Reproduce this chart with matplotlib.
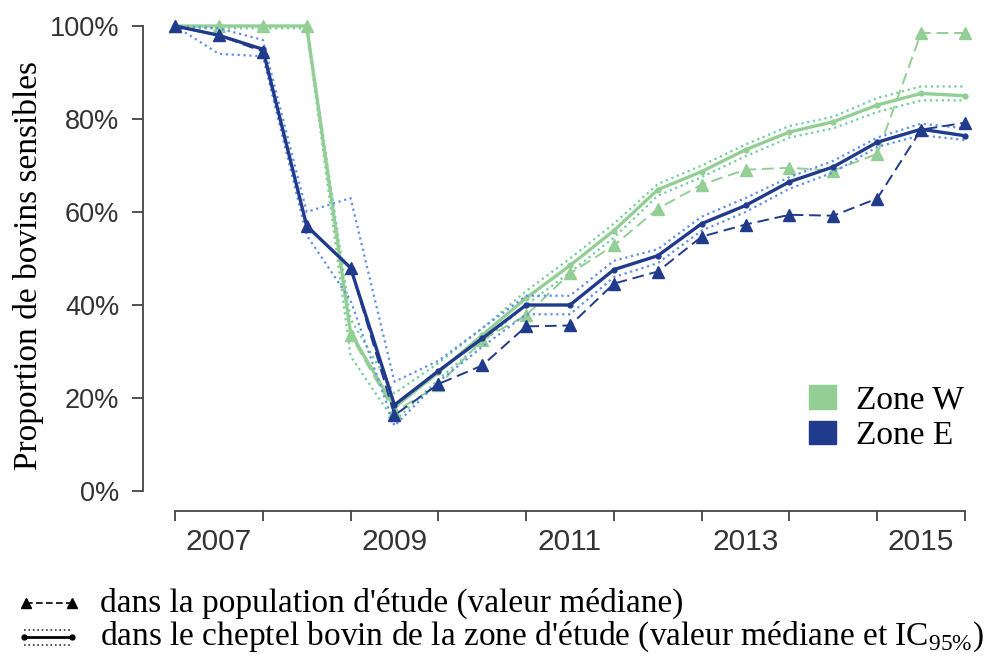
import matplotlib
matplotlib.use("Agg")
import matplotlib.pyplot as plt
from matplotlib.patches import Patch

plt.rcParams['mathtext.fontset'] = 'custom'
plt.rcParams['mathtext.rm'] = 'Liberation Serif'

# données (semestres)
periodes = [2007.0, 2007.5, 2008.0, 2008.5, 2009.0, 2009.5, 2010.0, 2010.5, 2011.0, 2011.5,
            2012.0, 2012.5, 2013.0, 2013.5, 2014.0, 2014.5, 2015.0, 2015.5, 2016.0]

# Zone W
w_med = [100, 100, 100, 100, 34, 18, 25.5, 33.5, 41.5, 48.5, 56, 64.8, 68.7, 73.4, 77.2, 79.4, 83, 85.5, 85]
w_lo = [99.5, 99.5, 99.5, 99.5, 29, 15, 24, 32, 40, 47, 54.5, 63.5, 67.5, 72, 76, 78, 81.5, 84, 84]
w_hi = [100, 100, 100, 100, 37, 21, 27.5, 35, 43, 50, 57.5, 66, 70, 74.5, 78.5, 80.5, 84.5, 87, 87]
w_pop = [100, 100, 100, 100, 33.5, 17, 22.7, 32.5, 37.8, 46.8, 52.8, 60.7, 65.9, 69.1, 69.5, 68.9, 72.5, 98.5, 98.5]

# Zone E
e_med = [100, 98, 95, 57, 48, 18.5, 25.8, 32.8, 40, 40, 47.6, 50.6, 57.5, 61.4, 66.5, 69.7, 75, 77.8, 76.4]
e_lo = [100, 94, 93.5, 55, 41, 14, 23.5, 31, 38, 38, 46, 49, 56, 60, 65, 68.5, 74, 76.5, 75.5]
e_hi = [100, 99.5, 97, 60, 63, 23.5, 28, 35, 42, 42, 49.5, 52, 59, 63, 67.5, 71, 76, 79, 78]
e_pop = [100, 98, 94.5, 57, 48, 16.3, 23, 27, 35.4, 35.6, 44.6, 47.2, 54.7, 57.3, 59.4, 59.2, 62.9, 77.7, 79.2]

annees_ticks = [2007, 2008, 2009, 2010, 2011, 2012, 2013, 2014, 2015, 2016]
annees_labels = ['2007', '2009', '2011', '2013', '2015']
y_ticks = [0, 20, 40, 60, 80, 100]

vert = '#93cf94'
vert_ic = '#72cf9c'
bleu = '#213b8c'
bleu_ic = '#5f8fef'

fig = plt.figure(figsize=(9.88, 6.57), dpi=100)
ax = fig.add_axes([143 / 988, 146 / 657, 832 / 988, 501 / 657])

zones = [(w_med, w_lo, w_hi, w_pop, vert, vert_ic),
         (e_med, e_lo, e_hi, e_pop, bleu, bleu_ic)]
for med, lo, hi, pop, c, cic in zones:
    ax.plot(periodes, lo, ':', color=cic, lw=1.6)
    ax.plot(periodes, hi, ':', color=cic, lw=1.6)
    ax.plot(periodes, pop, '--', color=c, lw=1.4, marker='^', ms=8, dashes=(6, 3))
    ax.plot(periodes, med, '-', color=c, lw=2.4, marker='o', ms=3.5)

ax.set_xlim(2006.635, 2016.114)
ax.set_ylim(-4.3, 103.44)

for s in ['top', 'right']:
    ax.spines[s].set_visible(False)
ax.spines['left'].set_bounds(0, 100)
ax.spines['bottom'].set_bounds(2007, 2016)
for s in ['left', 'bottom']:
    ax.spines[s].set_color('#444444')
    ax.spines[s].set_linewidth(1.3)

ax.set_xticks(annees_ticks)
ax.set_xticklabels([''] * len(annees_ticks))
ax.set_xticks([int(a) + 0.5 for a in annees_labels], minor=True)
ax.set_xticklabels(annees_labels, minor=True, fontsize=21.5, family='Liberation Sans', color='#333333')
ax.tick_params(axis='x', which='major', length=7.5, width=1.3, color='#444444')
ax.tick_params(axis='x', which='minor', length=0, pad=12)

ax.set_yticks(y_ticks)
ax.set_yticklabels([f"{v}%" for v in y_ticks], fontsize=19.5, family='Liberation Sans', color='#333333')
ax.tick_params(axis='y', length=8, width=1.3, color='#444444', pad=9)

fig.text(29 / 988, 1 - 266 / 657, 'Proportion de bovins sensibles', rotation=90,
         ha='center', va='center', fontsize=24, family='Liberation Serif')

# légende des zones
handles = [Patch(color=vert, label='Zone W'), Patch(color=bleu, label='Zone E')]
fig.legend(handles=handles, loc='center left', bbox_to_anchor=(779 / 988, 1 - 418 / 657),
           frameon=False, prop={'family': 'Liberation Serif', 'size': 24},
           handlelength=0.8, handleheight=0.7, labelspacing=0.15, handletextpad=0.6)

# légende du bas
lg = fig.add_axes([0, 0, 1, 1], facecolor='none')
lg.set_xlim(0, 988)
lg.set_ylim(657, 0)
lg.axis('off')
lg.plot([26, 72], [603, 603], '--', color='black', lw=1.2, marker='^', ms=7, dashes=(4, 2))
lg.text(100, 603, "dans la population d'étude (valeur médiane)", va='center', ha='left',
        fontsize=24, family='Liberation Serif')
lg.plot([24, 72], [637, 637], '-', color='black', lw=2, marker='o', ms=3.5)
lg.plot([24, 72], [630, 630], ':', color='#333333', lw=1.2)
lg.plot([24, 72], [645, 645], ':', color='#333333', lw=1.2)
lg.text(100, 637, r"dans le cheptel bovin de la zone d'étude (valeur médiane et IC$_{\mathrm{95\%}}$)",
        va='center', ha='left', fontsize=24, family='Liberation Serif')

fig.savefig('out.png', dpi=100)
